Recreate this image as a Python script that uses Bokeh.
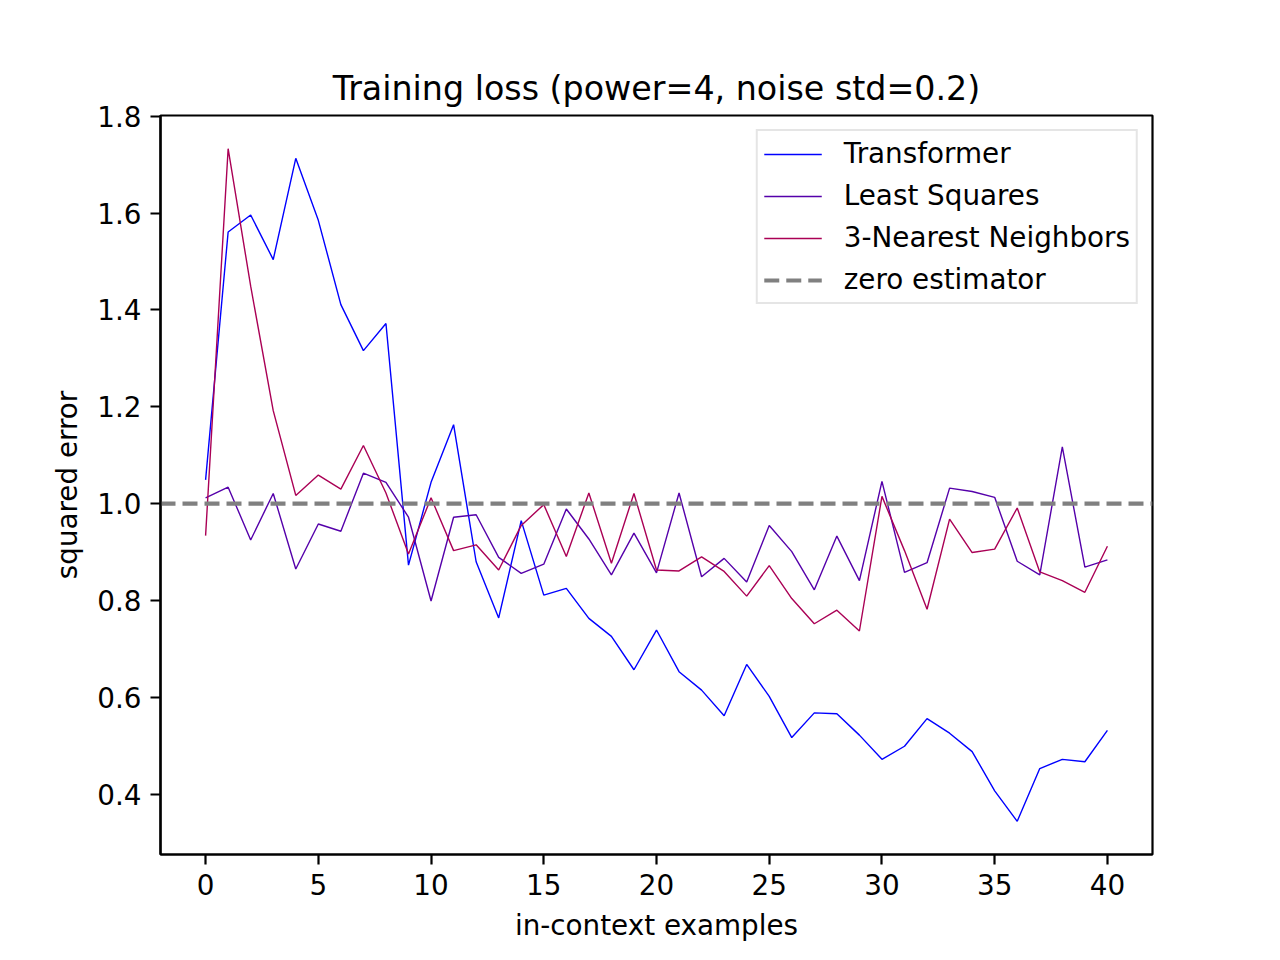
from bokeh.plotting import figure
from bokeh.models import FixedTicker, PrintfTickFormatter, Range1d, Legend, LegendItem
from bokeh.embed import file_html
from bokeh.resources import INLINE

x_examples = list(range(41))
transformer = [1.049, 1.561, 1.596, 1.504, 1.713, 1.585, 1.411, 1.316, 1.372, 0.873,
               1.044, 1.163, 0.880, 0.764, 0.965, 0.811, 0.825, 0.763, 0.726, 0.657,
               0.739, 0.653, 0.615, 0.562, 0.668, 0.602, 0.517, 0.568, 0.566, 0.522,
               0.472, 0.499, 0.556, 0.526, 0.488, 0.407, 0.344, 0.453, 0.472, 0.467,
               0.532]
least_squares = [1.012, 1.034, 0.925, 1.021, 0.865, 0.958, 0.943, 1.063, 1.044, 0.972,
                 0.799, 0.972, 0.977, 0.889, 0.856, 0.875, 0.989, 0.927, 0.853, 0.939,
                 0.857, 1.022, 0.849, 0.887, 0.838, 0.955, 0.901, 0.822, 0.933, 0.841,
                 1.046, 0.858, 0.878, 1.032, 1.025, 1.013, 0.881, 0.853, 1.117, 0.869,
                 0.884]
knn3 = [0.934, 1.733, 1.449, 1.192, 1.017, 1.059, 1.030, 1.120, 1.022, 0.896,
        1.012, 0.903, 0.915, 0.863, 0.955, 0.998, 0.891, 1.022, 0.877, 1.021,
        0.863, 0.861, 0.890, 0.860, 0.809, 0.872, 0.804, 0.752, 0.780, 0.737,
        1.015, 0.903, 0.782, 0.968, 0.899, 0.906, 0.991, 0.859, 0.841, 0.817,
        0.912]
zero_level = [1.0, 1.0]
zero_x = [-2, 42]
x_ticks = [0, 5, 10, 15, 20, 25, 30, 35, 40]
y_ticks = [0.4, 0.6, 0.8, 1.0, 1.2, 1.4, 1.6, 1.8]

FONT = "DejaVu Sans"

p = figure(width=1264, height=944, output_backend="svg", toolbar_location=None,
           x_range=Range1d(-2.0, 42.0), y_range=Range1d(0.2755, 1.8015),
           min_border_left=160, min_border_right=112, min_border_top=115, min_border_bottom=90)

p.title.text = "Training loss (power=4, noise std=0.2)"
p.title.align = "center"
p.title.text_font = FONT
p.title.text_font_size = "33.3px"
p.title.text_font_style = "normal"
p.title.text_color = "black"
p.title.offset = 0
p.title.standoff = 15

p.xgrid.visible = False
p.ygrid.visible = False
p.outline_line_color = "black"
p.outline_line_width = 2.2
p.outline_line_alpha = 1.0

for ax in (p.xaxis[0], p.yaxis[0]):
    ax.axis_line_width = 2.2
    ax.major_tick_line_width = 2.2
    ax.major_tick_out = 10
    ax.major_tick_in = 0
    ax.minor_tick_out = 0
    ax.minor_tick_in = 0
    ax.major_label_text_font = FONT
    ax.major_label_text_font_size = "27.8px"
    ax.major_label_text_color = "black"
    ax.axis_label_text_font = FONT
    ax.axis_label_text_font_size = "27.8px"
    ax.axis_label_text_font_style = "normal"
    ax.axis_label_text_color = "black"
    ax.major_label_standoff = 9

p.xaxis[0].ticker = FixedTicker(ticks=x_ticks)
p.xaxis[0].formatter = PrintfTickFormatter(format="%d")
p.xaxis[0].axis_label = "in-context examples"
p.xaxis[0].axis_label_standoff = 11
p.yaxis[0].ticker = FixedTicker(ticks=y_ticks)
p.yaxis[0].formatter = PrintfTickFormatter(format="%.1f")
p.yaxis[0].axis_label = "squared error"
p.yaxis[0].axis_label_standoff = 10

r_t = p.line(x_examples, transformer, line_color="#0000ff", line_width=1.4)
r_ls = p.line(x_examples, least_squares, line_color="#5500aa", line_width=1.4)
r_knn = p.line(x_examples, knn3, line_color="#aa0055", line_width=1.4)
r_zero = p.line(zero_x, zero_level, line_color="gray", line_width=4.2, line_dash="15 7")

legend = Legend(items=[
    LegendItem(label="Transformer", renderers=[r_t]),
    LegendItem(label="Least Squares", renderers=[r_ls]),
    LegendItem(label="3-Nearest Neighbors", renderers=[r_knn]),
    LegendItem(label="zero estimator", renderers=[r_zero]),
], location="top_right")
legend.margin = 14
legend.padding = 6
legend.spacing = 9
legend.label_height = 28
legend.glyph_height = 28
legend.glyph_width = 58
legend.label_standoff = 22
legend.label_text_font = FONT
legend.label_text_font_size = "27.8px"
legend.label_text_color = "black"
legend.border_line_color = "#cccccc"
legend.border_line_width = 2
legend.background_fill_alpha = 0.8
p.add_layout(legend)

open("out.html", "w").write(file_html(p, INLINE))
